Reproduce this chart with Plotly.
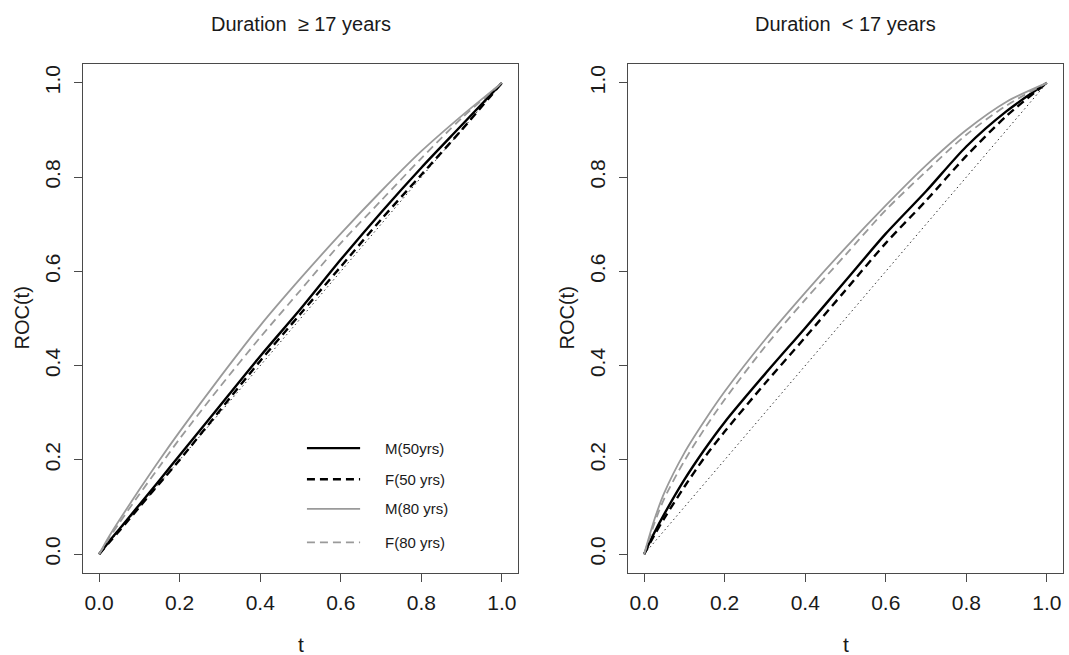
import plotly.graph_objects as go

# ROC(t) curves by sex and age, split by diabetes duration
t_grid = [0.0, 0.025, 0.05, 0.1, 0.15, 0.2, 0.3, 0.4, 0.5, 0.6, 0.7, 0.8, 0.9, 1.0]

# Duration >= 17 years
long_m50 = [0.0, 0.027, 0.053, 0.105, 0.157, 0.21, 0.315, 0.42, 0.52, 0.625, 0.725, 0.82, 0.91, 1.0]
long_f50 = [0.0, 0.025, 0.049, 0.100, 0.150, 0.20, 0.305, 0.41, 0.51, 0.610, 0.710, 0.805, 0.90, 1.0]
long_m80 = [0.0, 0.038, 0.072, 0.137, 0.200, 0.26, 0.375, 0.485, 0.585, 0.680, 0.770, 0.855, 0.93, 1.0]
long_f80 = [0.0, 0.034, 0.066, 0.127, 0.186, 0.245, 0.355, 0.46, 0.56, 0.660, 0.750, 0.840, 0.925, 1.0]

# Duration < 17 years
short_m50 = [0.0, 0.045, 0.085, 0.158, 0.222, 0.28, 0.382, 0.48, 0.58, 0.68, 0.77, 0.865, 0.94, 1.0]
short_f50 = [0.0, 0.040, 0.076, 0.143, 0.205, 0.26, 0.362, 0.46, 0.56, 0.66, 0.75, 0.845, 0.93, 1.0]
short_m80 = [0.0, 0.072, 0.130, 0.215, 0.283, 0.345, 0.455, 0.555, 0.65, 0.74, 0.825, 0.90, 0.96, 1.0]
short_f80 = [0.0, 0.064, 0.118, 0.198, 0.266, 0.328, 0.440, 0.540, 0.635, 0.73, 0.812, 0.89, 0.952, 1.0]

diag = [0.0, 1.0]

panel_titles = ["Duration\u00a0\u00a0\u2265\u00a017 years", "Duration\u00a0\u00a0<\u00a017 years"]
series_names = ["M(50yrs)", "F(50 yrs)", "M(80 yrs)", "F(80 yrs)"]
tick_vals = [0.0, 0.2, 0.4, 0.6, 0.8, 1.0]
tick_text = ["0.0", "0.2", "0.4", "0.6", "0.8", "1.0"]

W, H = 1069, 655
FONT = "Liberation Sans, Arial, sans-serif"
INK = "#1a1a1a"
FRAME = "#4a4a4a"
GREY = "#9a9a9a"
DASH = "8px,5px"

styles = [
    dict(color="#000000", width=2.4, dash="solid"),
    dict(color="#000000", width=2.4, dash=DASH),
    dict(color=GREY, width=1.8, dash="solid"),
    dict(color=GREY, width=1.8, dash=DASH),
]

# plot-box positions in pixels
boxes = [(83, 518), (628, 1063)]
box_top, box_bottom = 64, 573

fig = go.Figure()

panels = [
    (long_m50, long_f50, long_m80, long_f80),
    (short_m50, short_f50, short_m80, short_f80),
]

for p, curves in enumerate(panels):
    xa = "x" if p == 0 else "x2"
    ya = "y" if p == 0 else "y2"
    fig.add_trace(go.Scatter(x=diag, y=diag, mode="lines", xaxis=xa, yaxis=ya,
                             line=dict(color="#333333", width=1, dash="1.5px,3px"),
                             showlegend=False, hoverinfo="skip"))
    for name, vals, st in zip(series_names, curves, styles):
        fig.add_trace(go.Scatter(x=t_grid, y=vals, mode="lines", name=name,
                                 xaxis=xa, yaxis=ya,
                                 line=dict(st, shape="spline", smoothing=0.8),
                                 showlegend=False))

axis_common = dict(
    range=[-0.04, 1.04], tickvals=tick_vals, ticktext=tick_text,
    ticks="outside", ticklen=8, tickwidth=1.2, tickcolor=FRAME,
    showline=True, linecolor=FRAME, linewidth=1.4, mirror=True,
    showgrid=False, zeroline=False, automargin=False,
    tickfont=dict(family=FONT, size=21, color=INK),
)

ydom = [1 - box_bottom / H, 1 - box_top / H]
layout = dict(
    width=W, height=H, margin=dict(l=0, r=0, t=0, b=0),
    plot_bgcolor="white", paper_bgcolor="white", showlegend=False,
    font=dict(family=FONT, color=INK),
)
for p, (x0, x1) in enumerate(boxes):
    sx = "" if p == 0 else "2"
    layout["xaxis" + sx] = dict(axis_common, domain=[x0 / W, x1 / W],
                                anchor="y" + sx, ticklabelstandoff=3)
    layout["yaxis" + sx] = dict(axis_common, domain=ydom, anchor="x" + sx,
                                tickangle=-90, ticklabelstandoff=5)
fig.update_layout(**layout)

annotations = []
for p, (x0, x1) in enumerate(boxes):
    cx = (x0 + x1) / 2 / W
    annotations.append(dict(text=panel_titles[p], x=cx, y=1 - 24 / H, xref="paper", yref="paper",
                            showarrow=False, font=dict(family=FONT, size=20, color=INK),
                            xanchor="center", yanchor="middle"))
    annotations.append(dict(text="t", x=cx, y=1 - 644 / H, xref="paper", yref="paper",
                            showarrow=False, font=dict(family=FONT, size=21, color=INK),
                            xanchor="center", yanchor="middle"))
    annotations.append(dict(text="ROC(t)", x=(x0 - 62) / W, y=(ydom[0] + ydom[1]) / 2,
                            xref="paper", yref="paper", textangle=-90, showarrow=False,
                            font=dict(family=FONT, size=20, color=INK),
                            xanchor="center", yanchor="middle"))

# legend inside the left panel
legend_rows = [0.225, 0.159, 0.096, 0.025]
key_x0, key_x1, label_x = 0.516, 0.648, 0.705
shapes = []
for name, st, ry in zip(series_names, styles, legend_rows):
    shapes.append(dict(type="line", xref="x", yref="y", x0=key_x0, x1=key_x1, y0=ry, y1=ry,
                       line=dict(color=st["color"], width=st["width"], dash=st["dash"])))
    annotations.append(dict(text=name, x=label_x, y=ry, xref="x", yref="y", showarrow=False,
                            xanchor="left", yanchor="middle",
                            font=dict(family=FONT, size=15, color=INK)))

fig.update_layout(annotations=annotations, shapes=shapes)
fig.write_html("out.html")
